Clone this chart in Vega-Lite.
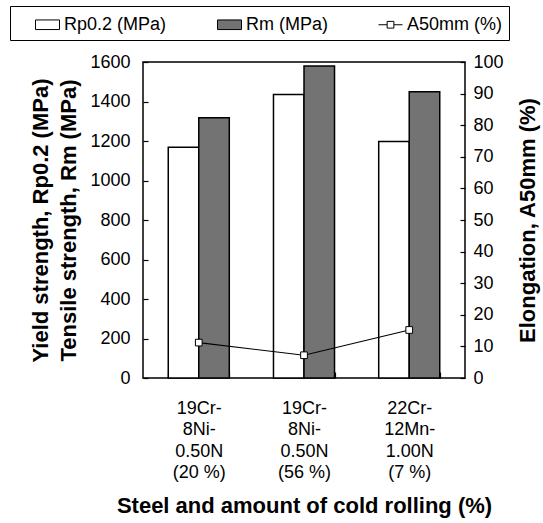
{
  "$schema": "https://vega.github.io/schema/vega-lite/v6.json",
  "width": 322,
  "height": 316,
  "autosize": {"type": "none"},
  "padding": {"left": 143, "top": 62, "right": 78, "bottom": 145},
  "background": "white",
  "config": {
    "font": "Liberation Sans",
    "view": {"stroke": "black", "strokeWidth": 1.5},
    "axis": {
      "labelFont": "Liberation Sans",
      "titleFont": "Liberation Sans",
      "labelColor": "black",
      "titleColor": "black",
      "domain": false,
      "grid": false,
      "tickColor": "black",
      "tickWidth": 1.2,
      "labelFontSize": 18,
      "titleFontSize": 22,
      "titleFontWeight": "bold"
    },
    "legend": {"labelFont": "Liberation Sans"}
  },
  "data": {
    "values": [
      {"steel": "19Cr-|8Ni-|0.50N|(20 %)", "series": "Rp0.2 (MPa)", "value": 1168},
      {"steel": "19Cr-|8Ni-|0.50N|(20 %)", "series": "Rm (MPa)", "value": 1318},
      {"steel": "19Cr-|8Ni-|0.50N|(20 %)", "series": "A50mm (%)", "value": 11.2},
      {"steel": "19Cr-|8Ni-|0.50N|(56 %)", "series": "Rp0.2 (MPa)", "value": 1436},
      {"steel": "19Cr-|8Ni-|0.50N|(56 %)", "series": "Rm (MPa)", "value": 1580},
      {"steel": "19Cr-|8Ni-|0.50N|(56 %)", "series": "A50mm (%)", "value": 7.2},
      {"steel": "22Cr-|12Mn-|1.00N|(7 %)", "series": "Rp0.2 (MPa)", "value": 1198},
      {"steel": "22Cr-|12Mn-|1.00N|(7 %)", "series": "Rm (MPa)", "value": 1450},
      {"steel": "22Cr-|12Mn-|1.00N|(7 %)", "series": "A50mm (%)", "value": 15.2}
    ]
  },
  "layer": [
    {
      "transform": [{"filter": "datum.series !== 'A50mm (%)'"}],
      "mark": {"type": "bar", "stroke": "black", "strokeWidth": 1.5},
      "encoding": {
        "x": {
          "field": "steel",
          "type": "nominal",
          "sort": null,
          "scale": {"paddingInner": 0.42, "paddingOuter": 0.24},
          "axis": {
            "title": "Steel and amount of cold rolling (%)",
            "labelExpr": "split(datum.label, '|')",
            "labelAngle": 0,
            "labelFontSize": 18,
            "labelLineHeight": 21.5,
            "labelPadding": 27,
            "tickBand": "extent",
            "tickSize": -6,
            "titlePadding": 14
          }
        },
        "xOffset": {
          "field": "series",
          "type": "nominal",
          "sort": ["Rp0.2 (MPa)", "Rm (MPa)"],
          "scale": {"paddingInner": 0, "paddingOuter": 0}
        },
        "y": {
          "field": "value",
          "type": "quantitative",
          "scale": {"domain": [0, 1600], "nice": false},
          "axis": {
            "title": ["Yield strength, Rp0.2 (MPa)", "Tensile strength, Rm (MPa)"],
            "values": [0, 200, 400, 600, 800, 1000, 1200, 1400, 1600],
            "format": "d",
            "tickSize": -5,
            "labelPadding": 18,
            "titlePadding": 9,
            "titleLineHeight": 28
          }
        },
        "fill": {
          "field": "series",
          "type": "nominal",
          "scale": {
            "domain": ["Rp0.2 (MPa)", "Rm (MPa)", "A50mm (%)"],
            "range": ["white", "#737373", "white"]
          },
          "legend": {
            "title": null,
            "orient": "none",
            "legendX": -133,
            "legendY": -56,
            "direction": "horizontal",
            "strokeColor": "black",
            "padding": 6,
            "labelFontSize": 18,
            "labelColor": "black",
            "labelOffset": 4,
            "symbolOffset": 19,
            "columnPadding": 31,
            "labelExpr": "datum.value === 'A50mm (%)' ? datum.label + '\u00a0\u00a0\u00a0\u00a0\u00a0\u00a0\u00a0\u00a0' : datum.label",
            "symbolSize": 576,
            "symbolOpacity": 1,
            "symbolStrokeColor": "black",
            "symbolStrokeWidth": 1,
            "encode": {
              "symbols": {
                "update": {
                  "shape": {"signal": "datum.value === 'A50mm (%)' ? 'M-1,0H-0.28M0.28,0H1M-0.28,-0.28H0.28V0.28H-0.28Z' : 'M-1,-0.4H1V0.4H-1Z'"},
                  "size": {"value": 576},
                  "stroke": {"value": "black"},
                  "strokeWidth": {"value": 1}
                }
              }
            }
          }
        }
      }
    },
    {
      "transform": [{"filter": "datum.series === 'A50mm (%)'"}],
      "encoding": {
        "x": {"field": "steel", "type": "nominal", "sort": null},
        "y": {
          "field": "value",
          "type": "quantitative",
          "scale": {"domain": [0, 100], "nice": false},
          "axis": {
            "orient": "right",
            "title": "Elongation, A50mm (%)",
            "titleAngle": 270,
            "titleBaseline": "top",
            "values": [0, 10, 20, 30, 40, 50, 60, 70, 80, 90, 100],
            "tickSize": -5,
            "labelPadding": 13,
            "titlePadding": 14
          }
        }
      },
      "layer": [
        {"mark": {"type": "line", "color": "black", "strokeWidth": 1.2}},
        {
          "mark": {"type": "point", "shape": "square", "filled": true, "stroke": "black", "strokeWidth": 1, "size": 45, "opacity": 1},
          "encoding": {"fill": {"field": "series", "type": "nominal"}}
        }
      ]
    }
  ],
  "resolve": {"scale": {"y": "independent"}}
}
